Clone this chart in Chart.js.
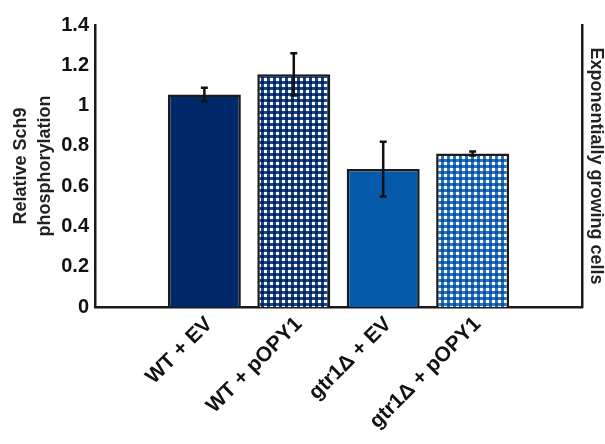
<!DOCTYPE html>
<html><head><meta charset="utf-8">
<script src="https://cdn.jsdelivr.net/npm/chart.js@4.4.0/dist/chart.umd.min.js"></script>
<style>html,body{margin:0;padding:0;background:#fff}</style>
</head><body>
<canvas id="c" width="605" height="444"></canvas>
<script>
const categories = ['WT + EV', 'WT + pOPY1', 'gtr1Δ + EV', 'gtr1Δ + pOPY1'];
const positions = [1, 2, 3, 4];
const values = [1.055, 1.155, 0.685, 0.762];
const errors = [0.033, 0.105, 0.136, 0.01];
const yTicks = [0, 0.2, 0.4, 0.6, 0.8, 1, 1.2, 1.4];

function makePattern(base, dark) {
  const t = document.createElement('canvas');
  t.width = 6; t.height = 6;
  const g = t.getContext('2d');
  g.fillStyle = base; g.fillRect(0, 0, 6, 6);
  g.fillStyle = '#ffffff'; g.fillRect(0, 0, 3, 3);
  g.fillStyle = dark; g.fillRect(3, 3, 3, 3);
  return document.getElementById('c').getContext('2d').createPattern(t, 'repeat');
}
const navy = '#00296a';
const blue = '#055aab';
const fills = [navy, makePattern('#1b4587', '#00225e'), blue, makePattern('#2b72c0', '#0552a3')];

const errorBars = {
  id: 'errorBars',
  afterDatasetsDraw(chart) {
    const {ctx, scales: {x, y}} = chart;
    ctx.save();
    ctx.strokeStyle = '#111';
    ctx.lineWidth = 2.5;
    positions.forEach((p, i) => {
      const px = x.getPixelForValue(p);
      const t = y.getPixelForValue(values[i] + errors[i]);
      const b = y.getPixelForValue(values[i] - errors[i]);
      ctx.beginPath();
      ctx.moveTo(px, t); ctx.lineTo(px, b);
      ctx.moveTo(px - 3.5, t); ctx.lineTo(px + 3.5, t);
      ctx.moveTo(px - 3.5, b); ctx.lineTo(px + 3.5, b);
      ctx.stroke();
    });
    ctx.restore();
  }
};

const FONT = '"Liberation Sans", Arial, sans-serif';
new Chart(document.getElementById('c'), {
  type: 'bar',
  data: {
    datasets: [{
      data: positions.map((p, i) => ({x: p, y: values[i]})),
      backgroundColor: fills,
      borderColor: '#1a1a1a',
      borderWidth: 2.5,
      barPercentage: 0.816,
      categoryPercentage: 1
    }]
  },
  options: {
    responsive: false,
    animation: false,
    devicePixelRatio: 1,
    layout: {padding: {top: 25, left: 0, right: 0, bottom: 0}},
    plugins: {legend: {display: false}, tooltip: {enabled: false}},
    scales: {
      x: {
        type: 'linear',
        offset: false,
        min: -0.223, max: 5.223,
        grid: {display: false, drawTicks: false, offset: false},
        border: {display: true, color: '#1a1a1a', width: 2.5},
        afterBuildTicks: s => { s.ticks = positions.map(v => ({value: v})); },
        afterFit: s => { s.height = 137; },
        ticks: {
          autoSkip: false, minRotation: 45, maxRotation: 45, padding: 5,
          labelOffset: 5,
          color: '#111',
          font: {family: FONT, size: 21, weight: 'bold'},
          callback: v => categories[v - 1]
        }
      },
      y: {
        position: 'left',
        min: 0, max: 1.4,
        grid: {display: false, drawTicks: false},
        border: {display: true, color: '#1a1a1a', width: 2.5},
        afterBuildTicks: s => { s.ticks = yTicks.map(v => ({value: v})); },
        afterFit: s => { s.width = 95; },
        ticks: {
          padding: 6, color: '#111',
          font: {family: FONT, size: 20, weight: 'bold'},
          callback: v => String(+v.toFixed(1))
        },
        title: {
          display: true,
          text: ['Relative Sch9', 'phosphorylation'],
          color: '#222',
          font: {family: FONT, size: 18, weight: 'bold', lineHeight: 1.35},
          padding: {top: 9, bottom: 0}
        }
      },
      y2: {
        position: 'right',
        min: 0, max: 1.4,
        grid: {display: false, drawTicks: false},
        border: {display: true, color: '#1a1a1a', width: 2.5},
        ticks: {display: false},
        afterFit: s => { s.width = 23; },
        title: {
          display: true,
          text: 'Exponentially growing cells',
          color: '#222',
          font: {family: FONT, size: 18, weight: 'bold', lineHeight: 1},
          padding: {top: 0, bottom: 0}
        }
      }
    }
  },
  plugins: [errorBars]
});
</script>
</body></html>
